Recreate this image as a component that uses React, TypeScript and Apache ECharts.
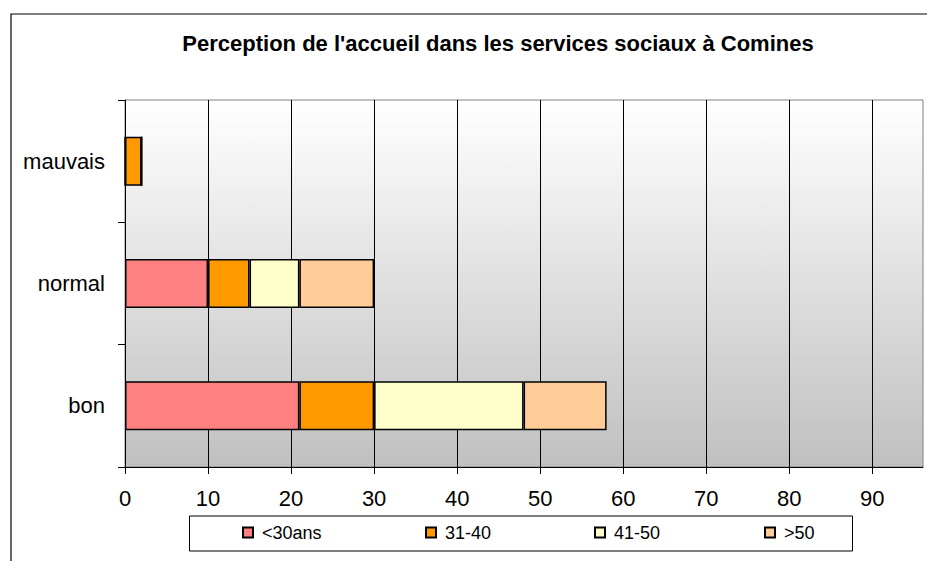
import React, { useEffect, useRef } from "react";
import * as echarts from "echarts";

const categories = ["bon", "normal", "mauvais"];
const seriesNames = ["<30ans", "31-40", "41-50", ">50"];
const under30 = [21, 10, 0];
const age31to40 = [9, 5, 2];
const age41to50 = [18, 6, 0];
const over50 = [10, 9, 0];
const xTicks = [0, 10, 20, 30, 40, 50, 60, 70, 80, 90];
const colors = ["#FF8080", "#FF9900", "#FFFFCC", "#FFCC99"];
const legendLefts = [242, 425, 594, 764];

export default function App() {
  const ref = useRef<HTMLDivElement>(null);
  useEffect(() => {
    if (!ref.current) return;
    const chart = echarts.init(ref.current, null, { renderer: "svg" });
    const values = [under30, age31to40, age41to50, over50];
    const font = "Arial, 'Liberation Sans', sans-serif";
    chart.setOption({
      animation: false,
      backgroundColor: "#ffffff",
      title: {
        text: "Perception de l'accueil dans les services sociaux à Comines",
        left: 498,
        textAlign: "center",
        top: 32,
        padding: 0,
        textStyle: { fontFamily: font, fontSize: 22, fontWeight: "bold", color: "#000" },
      },
      grid: {
        left: 125,
        top: 100,
        right: 4,
        bottom: 94,
        show: true,
        borderColor: "#808080",
        borderWidth: 1,
        backgroundColor: new echarts.graphic.LinearGradient(0, 0, 0, 1, [
          { offset: 0, color: "#ffffff" },
          { offset: 1, color: "#c0c0c0" },
        ]),
      },
      xAxis: {
        type: "value",
        min: 0,
        max: 96.1,
        interval: 10,
        axisLine: { show: true, lineStyle: { color: "#000", width: 1 } },
        axisTick: { show: true, length: 7, lineStyle: { color: "#000" } },
        axisLabel: {
          showMaxLabel: false,
          margin: 20,
          fontFamily: font,
          fontSize: 22,
          color: "#000",
          formatter: (v: number) => (xTicks.includes(v) ? String(v) : ""),
        },
        splitLine: { show: true, showMaxLine: false, lineStyle: { color: "#000", width: 1 } },
      },
      yAxis: {
        type: "category",
        data: categories,
        axisLine: { show: true, lineStyle: { color: "#000", width: 1 } },
        axisTick: { show: true, length: 7, alignWithLabel: false, lineStyle: { color: "#000" } },
        axisLabel: { margin: 20, fontFamily: font, fontSize: 22, color: "#000" },
        splitLine: { show: false },
      },
      legend: seriesNames.map((name, i) => ({
        data: [name],
        left: legendLefts[i],
        top: 522,
        padding: 0,
        itemWidth: 10,
        itemHeight: 10,
        icon: "rect",
        itemGap: 5,
        textStyle: { fontFamily: font, fontSize: 18, lineHeight: 21, color: "#000", padding: [0, 0, 0, 4] },
      })),
      graphic: [
        {
          type: "rect",
          shape: { x: 11, y: 14, width: 940, height: 600 },
          style: { fill: "none", stroke: "#000", lineWidth: 1.2 },
          silent: true,
          z: -1,
        },
        {
          type: "rect",
          shape: { x: 189.5, y: 516, width: 663, height: 35 },
          style: { fill: "#fff", stroke: "#000", lineWidth: 1 },
          silent: true,
          z: -1,
        },
      ],
      series: seriesNames.map((name, i) => ({
        name,
        type: "bar",
        stack: "total",
        barWidth: "40%",
        data: values[i],
        itemStyle: { color: colors[i], borderColor: "#000", borderWidth: 1.5 },
      })),
    });
    return () => chart.dispose();
  }, []);
  return <div ref={ref} style={{ width: 927, height: 561, position: "absolute", left: 0, top: 0 }} />;
}
